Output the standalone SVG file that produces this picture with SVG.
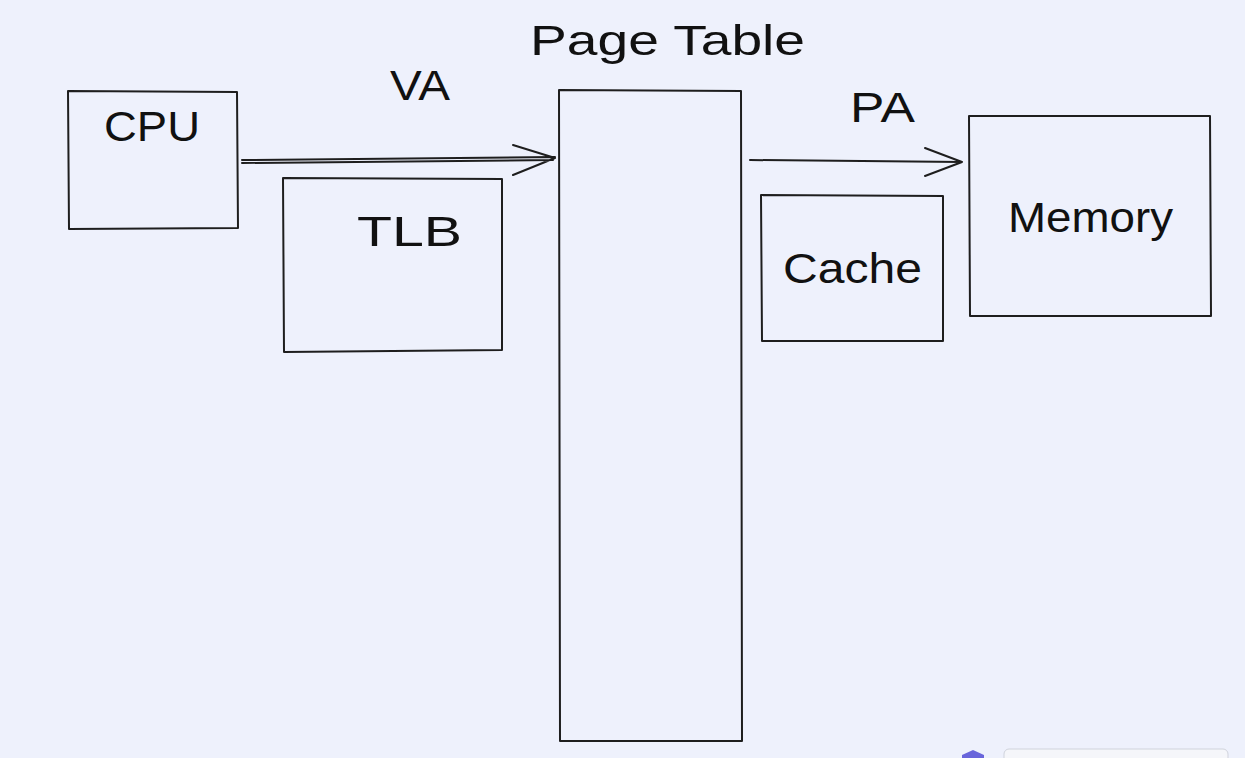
<svg xmlns="http://www.w3.org/2000/svg" width="1245" height="758" viewBox="0 0 1245 758">
<style>
.box{fill:none;stroke:#1e1e1e;stroke-width:2;stroke-linejoin:round}
.lbl{font-family:"Liberation Sans",Arial,sans-serif;font-size:42px;fill:#111}
.ln{fill:none;stroke:#1e1e1e;stroke-width:2;stroke-linecap:round;stroke-linejoin:round}
</style>
<rect width="1245" height="758" fill="#eef1fc"/>
<g id="cpu"><path class="box" d="M68 91 L237 92 L238 228 L69 229 Z"/><text class="lbl" x="104" y="141" textLength="96" lengthAdjust="spacingAndGlyphs">CPU</text></g>
<g id="tlb"><path class="box" d="M283 178 L502 179 L502 350 L284 352 Z"/><text class="lbl" x="357" y="246" textLength="105" lengthAdjust="spacingAndGlyphs">TLB</text></g>
<g id="pagetable"><path class="box" d="M559 90 L741 91 L742 741 L560 741 Z"/><text class="lbl" x="530" y="55" textLength="275" lengthAdjust="spacingAndGlyphs">Page Table</text></g>
<g id="cache"><path class="box" d="M761 195 L943 196 L943 341 L762 341 Z"/><text class="lbl" x="783" y="283" textLength="139" lengthAdjust="spacingAndGlyphs">Cache</text></g>
<g id="memory"><path class="box" d="M969 116 L1210 116 L1211 316 L970 316 Z"/><text class="lbl" x="1008" y="232" textLength="165" lengthAdjust="spacingAndGlyphs">Memory</text></g>
<g id="connectors">
<path class="ln" d="M242 160 L555 157 M242 163 L553 160 M513 145 L555 158 L513 175"/>
<path class="ln" d="M750 160 L962 162 M925 148 L962 162 L925 176"/>
<text class="lbl" x="390" y="100" textLength="60" lengthAdjust="spacingAndGlyphs">VA</text>
<text class="lbl" x="850" y="122" textLength="65" lengthAdjust="spacingAndGlyphs">PA</text>
</g>
<g id="ui"><path d="M962 758 L962 755 L973 750 L984 755 L984 758 Z" fill="#6965db"/><rect x="1004" y="749" width="224" height="20" rx="5" fill="#f5f6fa" stroke="#d0d3dc"/></g>
</svg>
